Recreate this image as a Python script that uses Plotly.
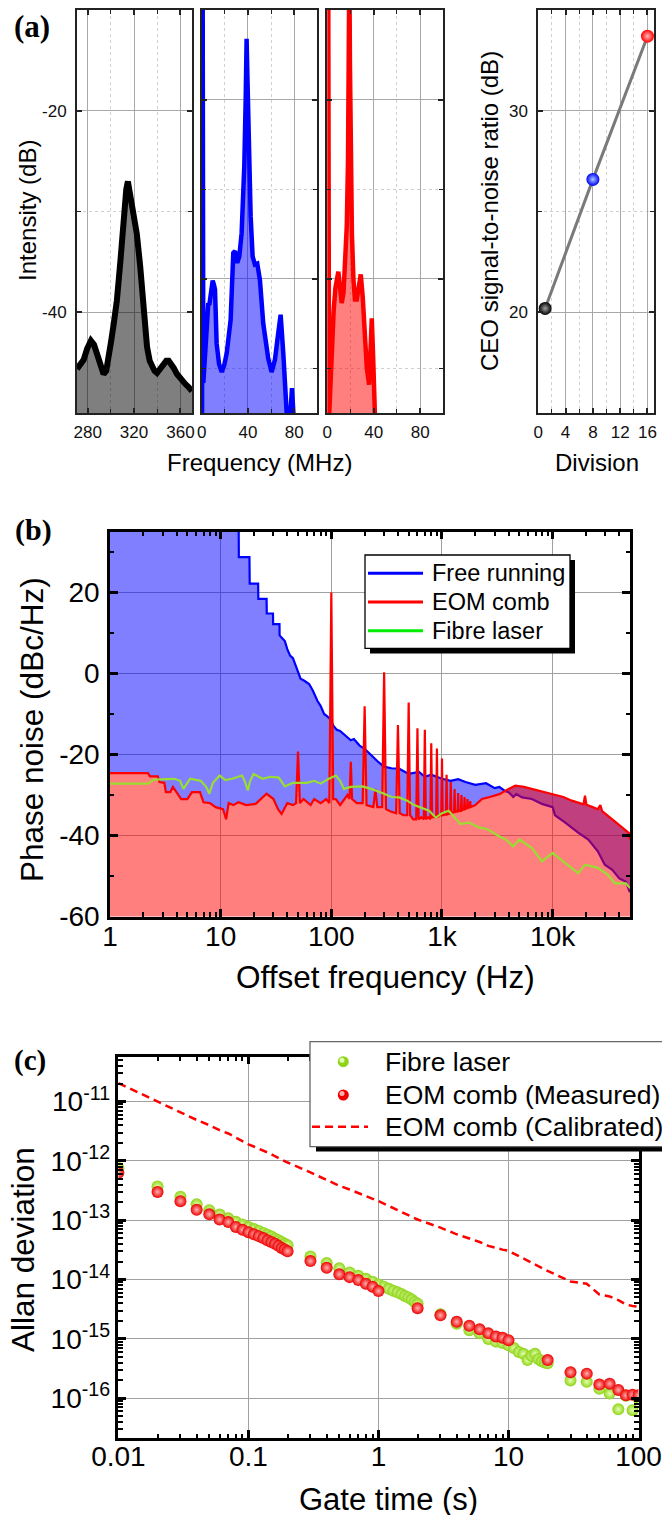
import plotly.graph_objects as go

# page body has an 8px margin: the figure is laid out in page pixels and shifted
OX, OY = 8, 8
FW, FH = 662, 1507
FONT = "Arial, 'Liberation Sans', sans-serif"
SERIF = "'Times New Roman', 'Liberation Serif', serif"

# ---------------- (a) CEO beat spectra ----------------
beat_freq_mhz = [270.8, 273.0, 276.5, 279.5, 282.8, 285.5, 288.0, 291.0, 293.7, 296.0,
                 298.0, 300.3, 302.4, 305.2, 308.1, 311.0, 313.3, 314.7, 317.2, 319.5,
                 322.4, 325.3, 328.2, 331.2, 333.5, 335.5, 337.7, 339.8, 342.5, 345.6,
                 347.8, 349.9, 352.0, 354.2, 357.0, 360.0, 362.0, 364.3, 367.0, 370.0]
beat_db = [-45.6, -45.2, -44.7, -43.6, -42.8, -43.2, -44.2, -45.3, -46.1, -45.8,
           -44.7, -42.8, -41.2, -38.8, -35.1, -30.5, -27.8, -27.0, -28.7, -29.6,
           -32.2, -35.4, -39.4, -43.4, -44.8, -45.4, -45.8, -46.0, -45.6, -45.1,
           -44.8, -44.8, -45.1, -45.5, -46.1, -46.6, -46.9, -47.1, -47.4, -47.8]

div8_freq_mhz = [0.3, 0.3, 0.8, 1.4, 2.8, 4.3, 5.7, 6.6, 8.0, 9.5,
                 10.5, 11.5, 12.9, 15.0, 17.3, 19.5, 21.6, 23.5, 25.0, 27.3,
                 28.8, 30.7, 32.5, 34.5, 36.8, 38.0, 38.8, 39.6, 40.6, 42.3,
                 44.0, 46.0, 48.0, 50.3, 53.2, 57.5, 60.4, 63.3, 66.1, 68.2,
                 70.5, 72.8, 73.9, 76.2, 78.0, 79.7]
div8_db = [-60, -5, -5, -51.6, -48.5, -46.0, -42.7, -42.9, -41.5, -40.2,
           -40.6, -41.2, -47.2, -49.5, -50.4, -49.6, -48.3, -46.5, -44.6, -37.1,
           -36.9, -38.2, -37.5, -34.9, -27.4, -20.0, -13.2, -18.0, -23.7, -33.0,
           -37.5, -38.4, -38.3, -40.1, -45.0, -48.9, -50.4, -49.0, -46.1, -44.0,
           -48.3, -52.8, -56.0, -56.0, -52.2, -56.0]

div16_freq_mhz = [0.3, 0.3, 0.8, 1.5, 2.5, 4.0, 5.5, 7.0, 8.3, 9.5,
                  11.0, 12.4, 14.0, 15.5, 16.8, 17.8, 18.5, 19.0, 19.5, 20.2,
                  21.2, 22.5, 23.8, 25.4, 27.0, 28.8, 30.5, 32.5, 34.0, 36.0,
                  37.3, 38.3, 39.3, 40.3, 41.2]
div16_db = [-60, -5, -5, -55.5, -52, -47, -43.5, -41, -39.8, -39.2,
            -41, -42.7, -41.5, -38.5, -34, -27, -16, -5, -16, -27,
            -35, -40, -42.3, -42.3, -40.5, -39.5, -42, -46.5, -49.9, -51.8,
            -48, -44.4, -48, -52, -56]

intensity_ticks = [-40, -20]
intensity_labels = ['-40', '-20']

division_factor = [1, 8, 16]
ceo_snr_db = [20.2, 26.6, 33.7]
division_colors = ['#000000', '#0000ff', '#ff0000']
division_glow = ['#a0a0a0', '#a8c8ff', '#ffb8b8']

# ---------------- (b) Phase noise ----------------
free_f = [1, 14.5, 14.6, 18.2, 18.3, 21.8, 21.9, 26, 26.1, 29.7,
          29.8, 34, 34.1, 38, 40, 42.4, 45, 48.4, 52.7, 57,
          63, 68, 75, 80, 86, 92, 98, 105, 112, 120,
          135, 150, 160, 180, 200, 228, 260, 298, 350, 409,
          500, 620, 700, 800, 1000, 1200, 1400, 1630, 2000, 2500,
          3000, 3300, 3700, 4000, 4400, 4700, 5300, 6500, 8000, 10000,
          10500, 13000, 17000, 21000, 25600, 29600, 34600, 40000, 46000, 49000,
          50000]
free_db = [45, 45, 28.7, 28.7, 22.2, 22.2, 18.4, 18.4, 14.8, 14.8,
           12.2, 12.2, 9.4, 8.0, 6.0, 4.4, 3.8, 1.5, -1.3, -1.8,
           -2.6, -4.2, -6.8, -8.0, -10.0, -10.6, -11.3, -13.0, -13.9, -14.2,
           -15.3, -16.5, -16.2, -17.8, -18.6, -20.2, -21.6, -23.0, -23.4, -23.5,
           -24.8, -24.3, -25.5, -25.0, -26.0, -26.5, -26.1, -26.8, -27.5, -27.1,
           -28.3, -28.0, -29.0, -29.3, -30.5, -29.8, -30.6, -31.0, -32.2, -33.0,
           -35.0, -36.8, -39.3, -41.0, -43.9, -47.2, -48.5, -50.6, -51.4, -53.5,
           -54.0]

eom_f = [1, 2.2, 2.3, 2.7, 2.8, 3.1, 3.2, 3.5, 3.7, 4.0,
         4.4, 5.0, 5.5, 6.5, 7.0, 8.0, 9.0, 10.5, 11.2, 11.8,
         13, 14.5, 17, 20.7, 23, 26, 30, 33, 35.5, 40,
         45, 48, 50, 52, 56, 60, 65, 70, 80, 90,
         96, 100, 104, 110, 120, 140, 146, 150, 154, 170,
         192, 200, 208, 240, 250, 260, 288, 300, 312, 340,
         385, 400, 415, 450, 485, 500, 515, 550, 585, 600,
         615, 650, 685, 700, 715, 750, 785, 800, 815, 850,
         885, 900, 915, 950, 985, 1000, 1015, 1085, 1100, 1115,
         1185, 1200, 1215, 1285, 1300, 1315, 1385, 1400, 1415, 1485,
         1500, 1515, 1585, 1600, 1615, 1685, 1700, 1715, 1785, 1800,
         1815, 2000, 2300, 2700, 3300, 4000, 4600, 5500, 6500, 8000,
         10000, 12500, 14900, 18000, 19000, 19600, 20200, 23000, 25600, 27000,
         28000, 34600, 42000, 49000, 50000]
eom_db = [-24.6, -24.6, -25.4, -25.4, -26.8, -27.0, -29.3, -29.3, -28.0, -29.5,
          -31.0, -31.0, -29.3, -29.3, -31.8, -32.0, -33.0, -33.5, -36.0, -32.0,
          -32.5, -31.8, -32.5, -32.2, -31.0, -29.7, -31.0, -33.5, -34.7, -32.0,
          -32.5, -32.0, -19.3, -32.0, -31.0, -31.8, -32.5, -31.0, -32.0, -31.0,
          -32.0, 20.0, -31.0, -31.0, -32.5, -30.0, -31.0, -21.8, -31.0, -32.0,
          -32.0, -8.1, -32.5, -33.0, -28.5, -33.0, -33.0, 0.3, -33.5, -34.0,
          -34.5, -12.7, -34.5, -35.0, -35.0, -7.2, -35.0, -36.0, -36.0, -13.5,
          -36.0, -35.5, -36.0, -13.9, -36.0, -35.5, -36.0, -17.2, -35.5, -35.5,
          -35.5, -18.5, -35.5, -35.0, -35.0, -21.0, -35.0, -34.8, -25.0, -34.8,
          -34.5, -26.8, -34.5, -34.2, -28.5, -34.2, -34.0, -29.5, -34.0, -33.8,
          -30.0, -33.8, -33.5, -30.5, -33.5, -33.2, -31.0, -33.2, -33.0, -31.5,
          -33.0, -32.5, -31.0, -30.5, -29.8, -28.5, -27.7, -28.0, -28.5, -29.0,
          -29.8, -30.5, -31.4, -32.0, -32.3, -30.2, -32.4, -33.0, -33.5, -32.5,
          -34.0, -36.0, -38.0, -39.4, -41.0]

fibre_f = [1, 2.2, 2.5, 3.8, 4.3, 4.6, 5.3, 6.6, 7.4, 7.9,
           8.5, 9.8, 11, 12.7, 15.6, 16.5, 17.6, 18.5, 19.8, 23.9,
           28, 33.5, 38, 45, 60, 70, 80, 95, 110, 120,
           130, 150, 190, 230, 300, 350, 409, 485, 560, 620,
           764, 880, 1000, 1150, 1300, 1470, 1750, 2160, 2600, 3270,
           3770, 4400, 5000, 5700, 6500, 8000, 10000, 13000, 17000, 19600,
           25600, 31600, 36500, 46000, 50000]
fibre_db = [-27.2, -27.2, -26.2, -26.0, -26.5, -28.5, -26.0, -26.5, -28.0, -29.7,
            -27.0, -25.2, -26.3, -26.0, -25.2, -26.5, -28.9, -26.5, -24.8, -26.0,
            -25.5, -25.7, -27.9, -27.0, -27.0, -26.5, -27.2, -26.0, -25.2, -26.5,
            -28.5, -28.0, -27.9, -28.5, -29.7, -30.5, -30.6, -31.4, -32.5, -33.0,
            -33.9, -35.6, -34.5, -33.9, -35.5, -37.2, -36.8, -38.0, -38.5, -40.2,
            -41.0, -42.7, -41.0, -42.0, -43.1, -46.4, -44.3, -46.8, -49.3, -47.2,
            -48.0, -49.7, -51.8, -51.8, -53.0]

offset_ticks = [1, 10, 100, 1000, 10000]
offset_labels = ['1', '10', '100', '1k', '10k']
phase_ticks = [-60, -40, -20, 0, 20]
phase_labels = ['-60', '-40', '-20', '0', '20']
phase_legend = ['Free running', 'EOM comb', 'Fibre laser']
phase_legend_colors = ['#0000ff', '#ff0000', '#00ee00']

# ---------------- (c) Allan deviation ----------------
eom_tau = [0.01, 0.02, 0.03, 0.04, 0.05, 0.06, 0.07, 0.08, 0.09, 0.10,
           0.11, 0.12, 0.13, 0.14, 0.15, 0.16, 0.17, 0.18, 0.19, 0.20,
           0.3, 0.4, 0.5, 0.6, 0.7, 0.8, 0.9, 1.0,
           2, 3, 4, 5, 6, 7, 8, 9, 10,
           20, 30, 40, 50, 60, 70, 80, 90, 100]
eom_measured = [6.3e-13, 3.0e-13, 2.1e-13, 1.5e-13, 1.26e-13, 1.03e-13, 9.3e-14, 7.7e-14, 6.9e-14, 6.3e-14,
                5.8e-14, 5.4e-14, 5.0e-14, 4.6e-14, 4.3e-14, 4.0e-14, 3.7e-14, 3.4e-14, 3.2e-14, 3.0e-14,
                2.05e-14, 1.58e-14, 1.23e-14, 1.1e-14, 9.8e-15, 8.5e-15, 7.6e-15, 6.4e-15,
                3.3e-15, 2.5e-15, 1.94e-15, 1.67e-15, 1.45e-15, 1.24e-15, 1.1e-15, 1.05e-15, 9.5e-16,
                4.4e-16, 2.75e-16, 2.6e-16, 1.7e-16, 1.76e-16, 1.38e-16, 1.12e-16, 1.15e-16, 1.12e-16]
eom_calibrated = [2.05e-11, 1.0e-11, 6.7e-12, 4.9e-12, 4.0e-12, 3.3e-12, 2.9e-12, 2.45e-12, 2.15e-12, 1.9e-12,
                  1.75e-12, 1.62e-12, 1.5e-12, 1.4e-12, 1.3e-12, 1.2e-12, 1.12e-12, 1.05e-12, 9.9e-13, 9.4e-13,
                  6.4e-13, 4.8e-13, 3.8e-13, 3.3e-13, 2.9e-13, 2.55e-13, 2.3e-13, 2.1e-13,
                  1.03e-13, 7.5e-14, 5.8e-14, 4.9e-14, 4.3e-14, 3.7e-14, 3.4e-14, 3.2e-14, 3.05e-14,
                  1.4e-14, 9.3e-15, 8.5e-15, 5.6e-15, 5.2e-15, 4.5e-15, 3.8e-15, 3.6e-15, 3.5e-15]

fibre_tau = [0.01, 0.02, 0.03, 0.04, 0.05, 0.06, 0.07, 0.08, 0.09, 0.10,
             0.11, 0.12, 0.13, 0.14, 0.15, 0.16, 0.17, 0.18, 0.19, 0.20,
             0.3, 0.4, 0.5, 0.6, 0.7, 0.8, 0.9, 1.0,
             1.1, 1.2, 1.3, 1.4, 1.5, 1.6, 1.7, 1.8, 1.9, 2.0,
             3, 4, 5, 6, 7, 8, 9, 10,
             11, 12, 13, 14, 15, 16, 17, 18, 19, 20,
             30, 40, 50, 60, 70, 80, 90, 100]
fibre_adev = [7.6e-13, 3.7e-13, 2.5e-13, 1.86e-13, 1.48e-13, 1.25e-13, 1.08e-13, 9.4e-14, 8.5e-14, 7.7e-14,
              7.1e-14, 6.6e-14, 6.1e-14, 5.7e-14, 5.3e-14, 4.9e-14, 4.6e-14, 4.3e-14, 4.0e-14, 3.8e-14,
              2.46e-14, 1.9e-14, 1.55e-14, 1.32e-14, 1.16e-14, 1.03e-14, 9.2e-15, 8.3e-15,
              7.6e-15, 7.0e-15, 6.5e-15, 6.1e-15, 5.7e-15, 5.3e-15, 5.0e-15, 4.6e-15, 4.2e-15, 3.9e-15,
              2.6e-15, 1.8e-15, 1.4e-15, 1.25e-15, 1.0e-15, 9.0e-16, 8.5e-16, 7.8e-16,
              7.0e-16, 6.0e-16, 5.6e-16, 4.4e-16, 5.2e-16, 5.6e-16, 4.6e-16, 4.2e-16, 4.0e-16, 3.9e-16,
              2.0e-16, 1.9e-16, 1.45e-16, 1.2e-16, 6.5e-17, 1.1e-16, 6.3e-17, 1.0e-16]

gate_ticks = [0.01, 0.1, 1, 10, 100]
gate_labels = ['0.01', '0.1', '1', '10', '100']
adev_ticks = [1e-11, 1e-12, 1e-13, 1e-14, 1e-15, 1e-16]
adev_labels = ['10<sup>-11</sup>', '10<sup>-12</sup>', '10<sup>-13</sup>',
               '10<sup>-14</sup>', '10<sup>-15</sup>', '10<sup>-16</sup>']
adev_legend = ['Fibre laser', 'EOM comb (Measured)', 'EOM comb (Calibrated)']

GREEN_LINE = '#99dd33'
GREEN_DOT = '#8fd418'
FLOOR = -70


def px(x):
    return (x - OX) / FW


def py(y):
    return 1 - (y - OY) / FH


def xd(a, b):
    return [px(a), px(b)]


def yd(top, bottom):
    return [py(bottom), py(top)]


fig = go.Figure()

# ---- panel (a) spectra
for xa, ya, fx, fy, lc, fc, lw in [
        ('x', 'y', beat_freq_mhz, beat_db, '#000000', 'rgba(0,0,0,0.5)', 6),
        ('x2', 'y2', div8_freq_mhz, div8_db, '#0000ff', 'rgba(0,0,255,0.5)', 4.5),
        ('x3', 'y3', div16_freq_mhz, div16_db, '#ff0000', 'rgba(255,0,0,0.5)', 4.5)]:
    fig.add_trace(go.Scatter(x=[min(fx), max(fx)], y=[FLOOR, FLOOR], xaxis=xa, yaxis=ya,
                             mode='lines', line=dict(width=0, color='rgba(0,0,0,0)'),
                             showlegend=False, hoverinfo='skip'))
    fig.add_trace(go.Scatter(x=fx, y=fy, xaxis=xa, yaxis=ya, mode='lines', fill='tonexty',
                             fillcolor=fc, line=dict(color=lc, width=lw),
                             showlegend=False))

# ---- panel (a) division
fig.add_trace(go.Scatter(x=division_factor, y=ceo_snr_db, xaxis='x4', yaxis='y4', mode='lines',
                         line=dict(color='#7a7a7a', width=3), showlegend=False))
fig.add_trace(go.Scatter(x=division_factor, y=ceo_snr_db, xaxis='x4', yaxis='y4', mode='markers',
                         marker=dict(size=13, color=division_colors,
                                     gradient=dict(type='radial', color=division_glow),
                                     line=dict(width=0)),
                         showlegend=False))

# ---- panel (b)
fig.add_trace(go.Scatter(x=eom_f, y=eom_db, xaxis='x5', yaxis='y5', mode='lines',
                         line=dict(width=0, color='rgba(0,0,0,0)'), showlegend=False, hoverinfo='skip'))
fig.add_trace(go.Scatter(x=free_f, y=free_db, xaxis='x5', yaxis='y5', mode='lines', fill='tonexty',
                         fillcolor='rgba(0,0,255,0.5)', line=dict(color='#0000ff', width=2.2),
                         showlegend=False))
fig.add_trace(go.Scatter(x=[min(eom_f), max(eom_f)], y=[FLOOR, FLOOR], xaxis='x5', yaxis='y5', mode='lines',
                         line=dict(width=0, color='rgba(0,0,0,0)'), showlegend=False, hoverinfo='skip'))
fig.add_trace(go.Scatter(x=eom_f, y=eom_db, xaxis='x5', yaxis='y5', mode='lines', fill='tonexty',
                         fillcolor='rgba(255,0,0,0.5)', line=dict(color='#ff0000', width=2.2),
                         showlegend=False))
fig.add_trace(go.Scatter(x=fibre_f, y=fibre_db, xaxis='x5', yaxis='y5', mode='lines',
                         line=dict(color=GREEN_LINE, width=2.2), showlegend=False))

# ---- panel (c)
fig.add_trace(go.Scatter(x=fibre_tau, y=fibre_adev, xaxis='x6', yaxis='y6', mode='markers',
                         showlegend=False,
                         marker=dict(size=12, color=GREEN_DOT,
                                     gradient=dict(type='radial', color='#e4ffb0'), line=dict(width=0))))
fig.add_trace(go.Scatter(x=eom_tau, y=eom_measured, xaxis='x6', yaxis='y6', mode='markers',
                         showlegend=False,
                         marker=dict(size=12, color='#ee0000',
                                     gradient=dict(type='radial', color='#ffb0b0'), line=dict(width=0))))
fig.add_trace(go.Scatter(x=eom_tau, y=eom_calibrated, xaxis='x6', yaxis='y6', mode='lines',
                         showlegend=False,
                         line=dict(color='#ff0000', width=2.5, dash='8px,5px')))

# ---- axes styling
tick_a = dict(family=FONT, size=17, color='#111')
frame_a = dict(showline=True, linecolor='#222', linewidth=2, mirror='allticks', ticks='inside',
               ticklen=5, tickwidth=1.5, tickcolor='#222', showgrid=True, gridcolor='#a8a8a8',
               gridwidth=1, zeroline=False, tickfont=tick_a)
minor_a = dict(ticks='inside', ticklen=4, tickwidth=1.2, tickcolor='#222', showgrid=True,
               gridcolor='#cfcfcf', griddash='dot', gridwidth=1)

ydom_a = yd(10, 413.3)
layout = dict(
    width=FW, height=FH, margin=dict(l=0, r=0, t=0, b=0, autoexpand=False),
    paper_bgcolor='white', plot_bgcolor='white', showlegend=False,
    xaxis=dict(domain=xd(77, 192), anchor='y', range=[270.8, 370], dtick=40, tick0=0,
               minor=dict(dtick=20, **minor_a), ticklabelstandoff=2, **frame_a),
    yaxis=dict(domain=ydom_a, anchor='x', range=[-50, -10], tickmode='array',
               tickvals=intensity_ticks, ticktext=intensity_labels,
               minor=dict(tickmode='array', tickvals=[-50, -30, -10], **minor_a),
               ticklabelstandoff=5, **frame_a),
    xaxis2=dict(domain=xd(201.7, 316.5), anchor='y2', range=[0, 99.2], dtick=40, tick0=0,
                minor=dict(dtick=20, **minor_a), ticklabelstandoff=2, **frame_a),
    yaxis2=dict(domain=ydom_a, anchor='x2', range=[-55, -10], tickmode='array',
                tickvals=intensity_ticks, ticktext=intensity_labels,
                minor=dict(tickmode='array', tickvals=[-50, -30], **minor_a),
                showticklabels=False, **frame_a),
    xaxis3=dict(domain=xd(327.3, 442.5), anchor='y3', range=[0, 99.2], dtick=40, tick0=0,
                minor=dict(dtick=20, **minor_a), ticklabelstandoff=2, **frame_a),
    yaxis3=dict(domain=ydom_a, anchor='x3', range=[-55, -10], tickmode='array',
                tickvals=intensity_ticks, ticktext=intensity_labels,
                minor=dict(tickmode='array', tickvals=[-50, -30], **minor_a),
                showticklabels=False, **frame_a),
    xaxis4=dict(domain=xd(538.3, 654.3), anchor='y4', range=[0, 17], dtick=4, tick0=0,
                minor=dict(dtick=2, **minor_a), ticklabelstandoff=2, **frame_a),
    yaxis4=dict(domain=ydom_a, anchor='x4', range=[15, 35], dtick=10, tick0=0,
                minor=dict(dtick=5, **minor_a), ticklabelstandoff=5, **frame_a),
)

frame_bc = dict(showline=True, linecolor='#000', linewidth=2.5, mirror='allticks', ticks='inside',
                ticklen=8, tickwidth=2.5, tickcolor='#000', showgrid=True, gridcolor='#a0a0a0',
                gridwidth=1, zeroline=False, tickfont=dict(family=FONT, size=28, color='#000'))
minor_bc = dict(ticks='inside', ticklen=4.5, tickwidth=2, tickcolor='#000', showgrid=False)

layout['xaxis5'] = dict(domain=xd(110, 630), anchor='y5', type='log', range=[0, 4.699],
                        tickmode='array', tickvals=offset_ticks, ticktext=offset_labels,
                        minor=dict(tickmode='array',
                                   tickvals=[m * 10 ** e for e in range(0, 5) for m in range(2, 10)],
                                   **minor_bc),
                        ticklabelstandoff=-7, **frame_bc)
layout['yaxis5'] = dict(domain=yd(531.7, 916.5), anchor='x5', range=[-60, 35], tickmode='array',
                        tickvals=phase_ticks, ticktext=phase_labels,
                        minor=dict(tickmode='array', tickvals=[-50, -30, -10, 10, 30], **minor_bc),
                        ticklabelstandoff=2, **frame_bc)
layout['xaxis6'] = dict(domain=xd(118.4, 638.5), anchor='y6', type='log', range=[-2, 2],
                        tickmode='array', tickvals=gate_ticks, ticktext=gate_labels,
                        minor=dict(tickmode='array',
                                   tickvals=[m * 10.0 ** e for e in range(-2, 2) for m in range(2, 10)],
                                   **minor_bc),
                        ticklabelstandoff=-8, **frame_bc)
layout['yaxis6'] = dict(domain=yd(1056.5, 1438), anchor='x6', type='log', range=[-16.67, -10.24],
                        tickmode='array', tickvals=adev_ticks, ticktext=adev_labels,
                        minor=dict(tickmode='array',
                                   tickvals=[m * 10.0 ** e for e in range(-17, -10) for m in range(2, 10)],
                                   **minor_bc),
                        ticklabelstandoff=0, **frame_bc)


def ann(text, x, y, size, angle=0, family=FONT, bold=False, anchor='center'):
    t = '<b>%s</b>' % text if bold else text
    return dict(text=t, x=px(x), y=py(y), xref='paper', yref='paper', xanchor=anchor,
                yanchor='middle', showarrow=False, textangle=angle,
                font=dict(family=family, size=size, color='#000'))


annotations = [
    ann('(a)', 31.7, 26.7, 31, family=SERIF, bold=True),
    ann('(b)', 33, 530, 30, family=SERIF, bold=True),
    ann('(c)', 30, 1060, 29, family=SERIF, bold=True),
    ann('Intensity (dB)', 28, 211, 24, angle=-90),
    ann('Frequency (MHz)', 259, 462, 24),
    ann('CEO signal-to-noise ratio (dB)', 490, 211, 24, angle=-90),
    ann('Division', 597, 463, 24),
    ann('Phase noise (dBc/Hz)', 32, 730, 31.5, angle=-90),
    ann('Offset frequency (Hz)', 385, 977, 31.5),
    ann('Allan deviation', 23, 1250, 31.5, angle=-90),
    ann('Gate time (s)', 388, 1499, 31),
]


def rect(x0, y0, x1, y1, fill, line_color=None, lw=0):
    return dict(type='rect', xref='paper', yref='paper', x0=px(x0), x1=px(x1), y0=py(y1), y1=py(y0),
                fillcolor=fill, line=dict(width=lw, color=line_color or fill), layer='above')


def hline(x0, x1, y, color, width, dash='solid'):
    return dict(type='line', xref='paper', yref='paper', x0=px(x0), x1=px(x1), y0=py(y), y1=py(y),
                line=dict(color=color, width=width, dash=dash), layer='above')


def dot(x, y, r, color):
    return dict(type='circle', xref='paper', yref='paper', x0=px(x - r), x1=px(x + r),
                y0=py(y + r), y1=py(y - r), fillcolor=color, line=dict(width=0), layer='above')


shapes = []
# legend (b): shadow, box, samples, texts
shapes.append(rect(370, 560, 575, 653.5, '#000'))
shapes.append(rect(365, 555, 570, 648.3, 'white', '#000', 1.3))
for i, (name, col) in enumerate(zip(phase_legend, phase_legend_colors)):
    yy = 573.3 + i * 28.7
    shapes.append(hline(368, 423, yy, col, 3))
    annotations.append(ann(name, 429.5, yy, 23.5, anchor='left'))

# legend (c)
shapes.append(rect(316, 1047, 700, 1151.5, '#000'))
shapes.append(rect(310, 1041.7, 690, 1146.7, 'white', '#666', 1.3))
leg_c_y = [1061.7, 1095.0, 1126.7]
shapes.append(dot(343.3, leg_c_y[0], 5.5, GREEN_DOT))
shapes.append(dot(342.0, leg_c_y[0] - 1.5, 2.5, '#e4ffb0'))
shapes.append(dot(343.3, leg_c_y[1], 5.5, '#ee0000'))
shapes.append(dot(342.0, leg_c_y[1] - 1.5, 2.5, '#ffb0b0'))
shapes.append(hline(312, 368, leg_c_y[2], '#ff0000', 2.5, dash='8px,5px'))
for name, yy in zip(adev_legend, leg_c_y):
    annotations.append(ann(name, 383.3, yy, 26.5, anchor='left'))

layout['annotations'] = annotations
layout['shapes'] = shapes

fig.update_layout(**layout)
fig.write_html('out.html')
